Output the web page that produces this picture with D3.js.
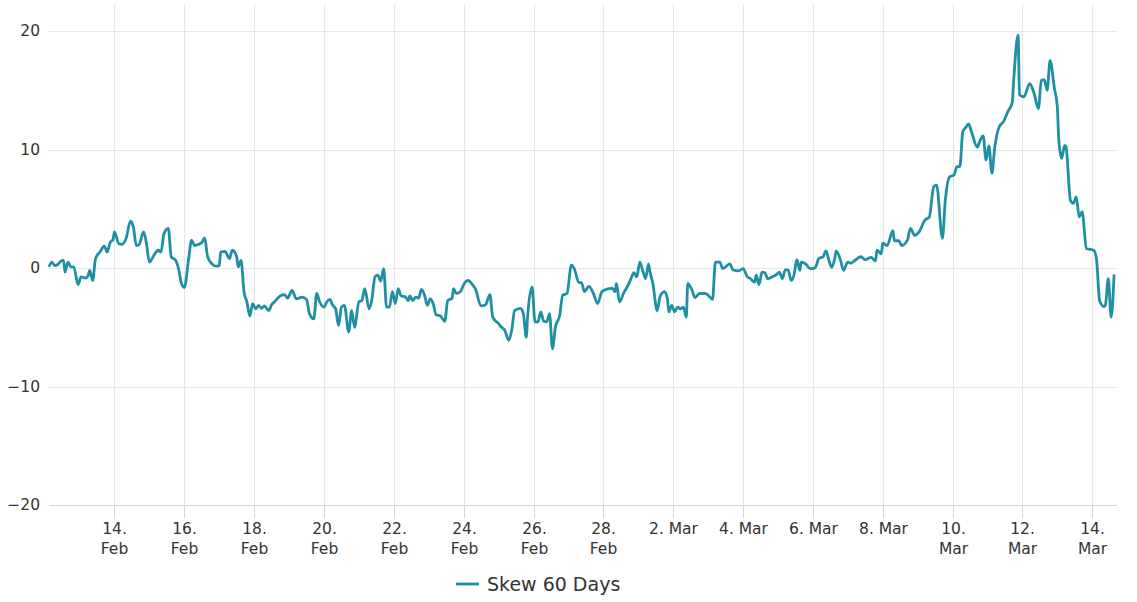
<!DOCTYPE html>
<html lang="en">
<head>
<meta charset="UTF-8">
<title>Skew 60 Days</title>
<script src="https://cdn.jsdelivr.net/npm/d3@7"></script>
<style>
    body { margin: 0; background: #fff; }
    svg { display: block; font-family: "DejaVu Sans", Verdana, sans-serif; }
    .grid line { stroke: #e6e6e6; stroke-width: 1; }
    .label { fill: #333; font-size: 15.5px; }
</style>
</head>
<body>
<div id="chart"></div>
<script>
// series start and points: [hours since start, skew value]
var startTime = "2023-02-12T03:00";
var endTime = "2023-03-14T17:00";
var skewPoints = [
    [0,0.1],[2,0.5],[4,0.2],[6,0.3],[9,0.65],[10,0.65],[11,-0.35],[13,0.5],[15,0.1],[17,0.1],
    [20,-1.4],[22,-0.75],[25,-0.85],[27,-0.6],[28,-0.2],[30,-1.05],[32,0.8],[35,1.35],[38,1.85],[40,1.35],
    [42,2.15],[44,2.4],[45,3.05],[48,2.05],[50,2.0],[53,2.5],[56,3.95],[58,3.45],[60,1.9],[62,2.0],
    [65,3.05],[67,2.05],[69,0.5],[72,1.05],[75,1.5],[77,1.35],[79,2.9],[82,3.35],[84,0.95],[87,0.65],
    [89,-0.05],[91,-1.3],[93,-1.65],[96,0.8],[98,2.35],[100,1.9],[103,2.0],[105,2.15],[107,2.55],[109,0.95],
    [112,0.35],[115,0.15],[117,0.2],[118,1.35],[121,1.4],[124,0.8],[126,1.5],[129,0.95],[130,0.1],[132,0.65],
    [134,-2.0],[136,-2.85],[138,-4.05],[140,-3.0],[142,-3.45],[144,-3.15],[146,-3.4],[148,-3.2],[151,-3.6],[153,-3.1],
    [155,-2.85],[159,-2.35],[162,-2.25],[164,-2.55],[167,-1.9],[170,-2.6],[174,-2.45],[177,-2.65],[179,-3.85],[182,-4.3],
    [184,-2.15],[186,-2.85],[189,-3.3],[191,-2.85],[193,-2.65],[195,-3.15],[197,-3.45],[199,-4.85],[201,-3.3],[203,-3.15],
    [206,-5.4],[208,-3.6],[210,-5.0],[213,-2.85],[215,-2.75],[217,-1.75],[220,-3.45],[222,-2.6],[224,-0.75],[226,-0.6],
    [228,-1.1],[230,-0.05],[232,-3.3],[234,-3.3],[236,-2.0],[238,-3.0],[240,-1.75],[242,-2.35],[245,-2.45],[247,-2.75],
    [248,-2.35],[250,-2.75],[252,-2.45],[254,-2.55],[256,-1.8],[258,-2.25],[260,-3.15],[262,-2.6],[264,-3.0],[266,-3.95],
    [269,-4.05],[272,-4.5],[274,-2.75],[277,-2.55],[278,-1.75],[280,-2.15],[283,-1.95],[285,-1.4],[288,-1.05],[291,-1.4],
    [293,-1.75],[297,-3.2],[300,-3.1],[303,-2.25],[305,-4.15],[309,-4.7],[311,-5.0],[313,-5.2],[316,-6.1],[318,-5.25],
    [320,-3.6],[324,-3.4],[326,-3.85],[328,-5.85],[329,-4.0],[332,-1.6],[334,-4.55],[336,-4.55],[338,-3.7],[340,-4.5],
    [342,-4.55],[344,-3.85],[346,-6.8],[348,-5.0],[351,-4.0],[353,-2.3],[356,-2.15],[359,0.25],[361,-0.05],[364,-1.2],
    [366,-1.25],[368,-2.0],[371,-1.55],[374,-2.1],[377,-3.0],[380,-2.0],[382,-1.85],[385,-1.75],[387,-1.7],[389,-2.0],
    [390,-1.3],[392,-2.85],[395,-2.1],[398,-1.45],[400,-0.9],[402,-0.4],[404,-0.75],[406,0.5],[408,-0.2],[410,-0.9],
    [412,0.35],[413,-0.3],[415,-1.3],[418,-3.6],[420,-2.4],[423,-2.0],[425,-2.6],[426,-3.7],[428,-3.15],[430,-3.7],
    [432,-3.3],[434,-3.45],[436,-3.3],[438,-4.15],[439,-1.3],[442,-1.9],[444,-2.5],[447,-2.15],[451,-2.15],[453,-2.3],
    [456,-2.65],[458,0.5],[461,0.5],[463,-0.05],[465,0.1],[468,0.35],[470,-0.15],[474,-0.25],[477,-0.05],[480,-0.75],
    [482,-0.9],[485,-1.2],[486,-0.6],[488,-1.4],[490,-0.35],[492,-0.4],[494,-0.9],[497,-0.75],[500,-0.55],[502,-0.35],
    [504,-0.9],[506,-0.15],[508,-0.15],[510,-1.05],[512,-0.6],[514,0.7],[516,-0.2],[517,0.5],[520,0.35],[523,-0.05],
    [525,-0.05],[527,0.1],[529,0.8],[532,0.95],[534,1.45],[536,0.65],[538,0.05],[540,0.8],[541,1.45],[544,0.65],
    [546,-0.2],[549,0.5],[551,0.4],[554,0.65],[558,0.95],[561,0.7],[565,0.9],[568,0.6],[569,1.5],[572,1.2],
    [573,2.1],[576,1.9],[580,3.15],[581,2.3],[584,2.3],[586,1.9],[590,2.35],[592,3.35],[595,2.75],[598,3.05],
    [602,4.05],[605,4.3],[608,6.85],[610,7.0],[614,2.5],[616,5.7],[619,7.7],[622,7.85],[624,8.55],[626,8.55],
    [628,11.5],[630,11.85],[632,12.15],[634,11.5],[638,10.2],[640,10.8],[642,11.15],[644,9.1],[646,10.3],[648,8.0],
    [650,10.2],[653,11.9],[656,12.35],[659,13.2],[662,13.95],[663,15.85],[666,19.65],[667,14.6],[670,14.45],[674,15.55],
    [677,14.75],[680,13.45],[682,15.85],[684,15.9],[686,15.0],[688,17.5],[691,15.15],[693,13.6],[694,10.8],[696,9.25],
    [698,10.35],[699,10.2],[702,5.7],[704,5.45],[706,6.0],[708,4.3],[710,4.75],[713,1.65],[718,1.5],[720,0.65],
    [722,-2.75],[725,-3.25],[726,-3.15],[728,-0.9],[730,-4.15],[732,-0.55]
];

var yTicks = [-20, -10, 0, 10, 20];
var tickDates = ["2023-02-14", "2023-02-16", "2023-02-18", "2023-02-20", "2023-02-22", "2023-02-24",
    "2023-02-26", "2023-02-28", "2023-03-02", "2023-03-04", "2023-03-06", "2023-03-08",
    "2023-03-10", "2023-03-12", "2023-03-14"];
var tickLabels = [["14.", "Feb"], ["16.", "Feb"], ["18.", "Feb"], ["20.", "Feb"], ["22.", "Feb"], ["24.", "Feb"],
    ["26.", "Feb"], ["28.", "Feb"], ["2. Mar"], ["4. Mar"], ["6. Mar"], ["8. Mar"],
    ["10.", "Mar"], ["12.", "Mar"], ["14.", "Mar"]];
var seriesName = "Skew 60 Days";
var lineColor = "#1f8fa3";

var width = 1137, height = 602;
var plotLeft = 49, plotRight = 1117, plotTop = 4, plotBottom = 505;

var t0 = new Date(startTime);
var data = skewPoints.map(function (p) {
    return { date: new Date(t0.getTime() + p[0] * 3600 * 1000), value: p[1] };
});

var svg = d3.select("#chart").append("svg")
    .attr("width", width)
    .attr("height", height);

var x = d3.scaleTime()
    .domain([t0, new Date(endTime)])
    .range([plotLeft, plotRight]);

var y = d3.scaleLinear()
    .domain([-20, 20])
    .range([plotBottom, 31]);

var ticks = tickDates.map(function (d) { return new Date(d + "T00:00"); });

// grid
var grid = svg.append("g").attr("class", "grid");
grid.selectAll(".vg").data(ticks).enter().append("line")
    .attr("x1", function (d) { return Math.round(x(d)) + 0.5; })
    .attr("x2", function (d) { return Math.round(x(d)) + 0.5; })
    .attr("y1", plotTop)
    .attr("y2", plotBottom);
grid.selectAll(".hg").data(yTicks).enter().append("line")
    .attr("x1", plotLeft)
    .attr("x2", plotRight)
    .attr("y1", function (d) { return Math.round(y(d)) + 0.5; })
    .attr("y2", function (d) { return Math.round(y(d)) + 0.5; });

// y labels
svg.append("g").selectAll("text").data(yTicks).enter().append("text")
    .attr("class", "label")
    .attr("x", 40)
    .attr("y", function (d) { return y(d) + 5; })
    .attr("text-anchor", "end")
    .text(function (d) { return d < 0 ? "\u2212" + Math.abs(d) : d; });

// x axis line, ticks and labels
var xAxis = svg.append("g").attr("transform", "translate(0," + (plotBottom + 0.5) + ")");
xAxis.append("line")
    .attr("x1", plotLeft).attr("x2", plotRight)
    .attr("stroke", "#ccd6eb");
var xt = xAxis.selectAll(".tick").data(ticks).enter().append("g")
    .attr("transform", function (d) { return "translate(" + (Math.round(x(d)) + 0.5) + ",0)"; });
xt.append("line")
    .attr("y1", 0).attr("y2", 13)
    .attr("stroke", "#ccd6eb");
xt.append("text")
    .attr("class", "label")
    .attr("text-anchor", "middle")
    .selectAll("tspan")
    .data(function (d, i) { return tickLabels[i]; })
    .enter().append("tspan")
    .attr("x", 0)
    .attr("y", function (d, i) { return 28 + i * 20; })
    .text(function (d) { return d; });

// series line
var line = d3.line()
    .x(function (d) { return x(d.date); })
    .y(function (d) { return y(d.value); })
    .curve(d3.curveMonotoneX);

svg.append("path")
    .datum(data)
    .attr("fill", "none")
    .attr("stroke", lineColor)
    .attr("stroke-width", 2.8)
    .attr("stroke-linejoin", "round")
    .attr("d", line);

// legend
var legend = svg.append("g").attr("transform", "translate(456,584)");
legend.append("line")
    .attr("x1", 0).attr("x2", 23)
    .attr("stroke", lineColor)
    .attr("stroke-width", 2.8);
legend.append("text")
    .attr("x", 31)
    .attr("y", 7)
    .attr("fill", "#333")
    .style("font-size", "19px")
    .text(seriesName);
</script>
</body>
</html>
